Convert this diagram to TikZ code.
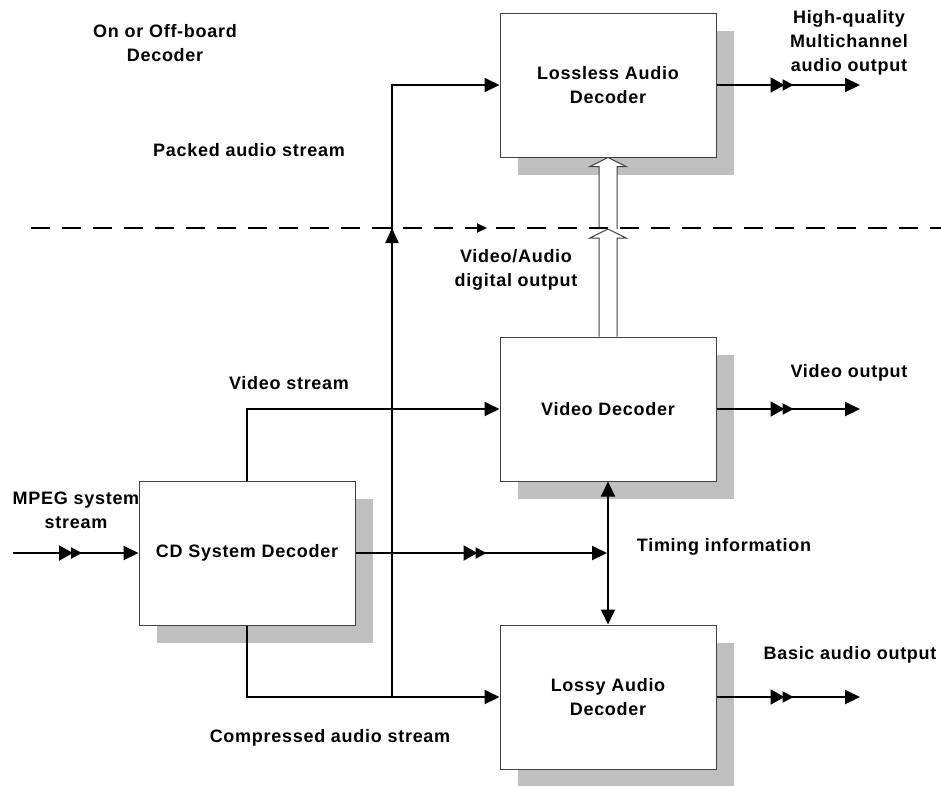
\documentclass[tikz,border=0pt]{standalone}
\usepackage{fontspec}
\setmainfont{Liberation Sans}[LetterSpace=4]
\usetikzlibrary{arrows.meta, shadows, decorations.markings, calc}

\tikzset{
	blk/.style={rectangle, draw=black!75, line width=1pt, fill=white,
		minimum width=216pt, minimum height=144pt, align=center,
		font=\fontsize{18}{24}\selectfont\bfseries,
		drop shadow={shadow xshift=18pt, shadow yshift=-18pt, fill=black!25, opacity=1}},
	lbl/.style={align=center, inner sep=0pt, font=\fontsize{18}{24}\selectfont\bfseries},
	conn/.style={line width=2pt, draw=black},
	endtip/.tip={Triangle[length=15pt, width=14pt]},
	dbl/.style={postaction={decorate}, decoration={markings,
		mark=at position #1 with {\arrow{Triangle[length=14pt, width=15pt, sep=-2pt] Triangle[length=11pt, width=11pt]}}}},
	upmark/.style={postaction={decorate}, decoration={markings,
		mark=at position #1 with {\arrow{Triangle[length=15pt, width=13pt]}}}},
	hollow/.style={fill=white, draw=black!75, line width=1pt}
}

\begin{document}
\begin{tikzpicture}[x=1pt, y=-1pt]
	\useasboundingbox (0,0) rectangle (941,785);

	\node[blk] (ll) at (608, 85) {Lossless Audio\\Decoder};
	\node[blk] (vid) at (608, 409) {Video Decoder};
	\node[blk] (cd) at (247, 553) {CD System Decoder};
	\node[blk] (lossy) at (608, 697) {Lossy Audio\\Decoder};

	\node[lbl] (onoff) at (165, 43) {On or Off-board\\Decoder};
	\node[lbl] (packed) at (249, 150) {Packed audio stream};
	\node[lbl] (vaout) at (516, 270) {Video/Audio\\digital output};
	\node[lbl] (vstream) at (289, 383) {Video stream};
	\node[lbl] (mpeg) at (76, 510) {MPEG system\\stream};
	\node[lbl] (timing) at (724, 547) {Timing information};
	\node[lbl] (compr) at (330, 738) {Compressed audio stream};
	\node[lbl] (hq) at (849, 43) {High-quality\\Multichannel\\audio output};
	\node[lbl] (vout) at (849, 373) {Video output};
	\node[lbl] (aout) at (850, 655) {Basic audio output};

	\coordinate (mpegin) at (13, 553);
	\coordinate (split) at (392, 697);
	\coordinate (tm) at (607, 553);
	\coordinate (cut) at (608, 229);
	\coordinate (llend) at (860, 85);
	\coordinate (vidend) at (860, 409);
	\coordinate (lossyend) at (860, 697);
	\coordinate (dl) at (31, 228);
	\coordinate (dr) at (941, 228);

	% streams out of the system decoder
	\draw[conn, -endtip, dbl=69pt] (mpegin) -- (cd.west);
	\draw[conn, -endtip] (cd.north) |- (vid.west);
	\draw[conn, -endtip] (cd.south) |- (lossy.west);
	\draw[conn, -endtip, upmark=469pt] (split) |- (ll.west);
	\draw[conn, -endtip, dbl=131pt] (cd.east) -- (tm);
	\draw[conn, endtip-endtip] (vid.south) -- (lossy.north);

	% outputs
	\draw[conn, -endtip, dbl=77pt] (ll.east) -- (llend);
	\draw[conn, -endtip, dbl=77pt] (vid.east) -- (vidend);
	\draw[conn, -endtip, dbl=77pt] (lossy.east) -- (lossyend);

	% digital output
	\draw[hollow] ($(vid.north)+(-9,0)$) -- ($(cut)+(-9,9)$) -- ($(cut)+(-18,9)$) -- (cut)
		-- ($(cut)+(18,9)$) -- ($(cut)+(9,9)$) -- ($(vid.north)+(9,0)$);
	\draw[hollow] ($(cut)+(-9,0)$) -- ($(ll.south)+(-9,9)$) -- ($(ll.south)+(-18,9)$) -- (ll.south)
		-- ($(ll.south)+(18,9)$) -- ($(ll.south)+(9,9)$) -- ($(cut)+(9,0)$);

	\draw[conn, dash pattern=on 19pt off 12pt, postaction={decorate}, decoration={markings,
		mark=at position 456pt with {\arrow{Triangle[length=10pt, width=9pt]}}}] (dl) -- (dr);
\end{tikzpicture}
\end{document}
